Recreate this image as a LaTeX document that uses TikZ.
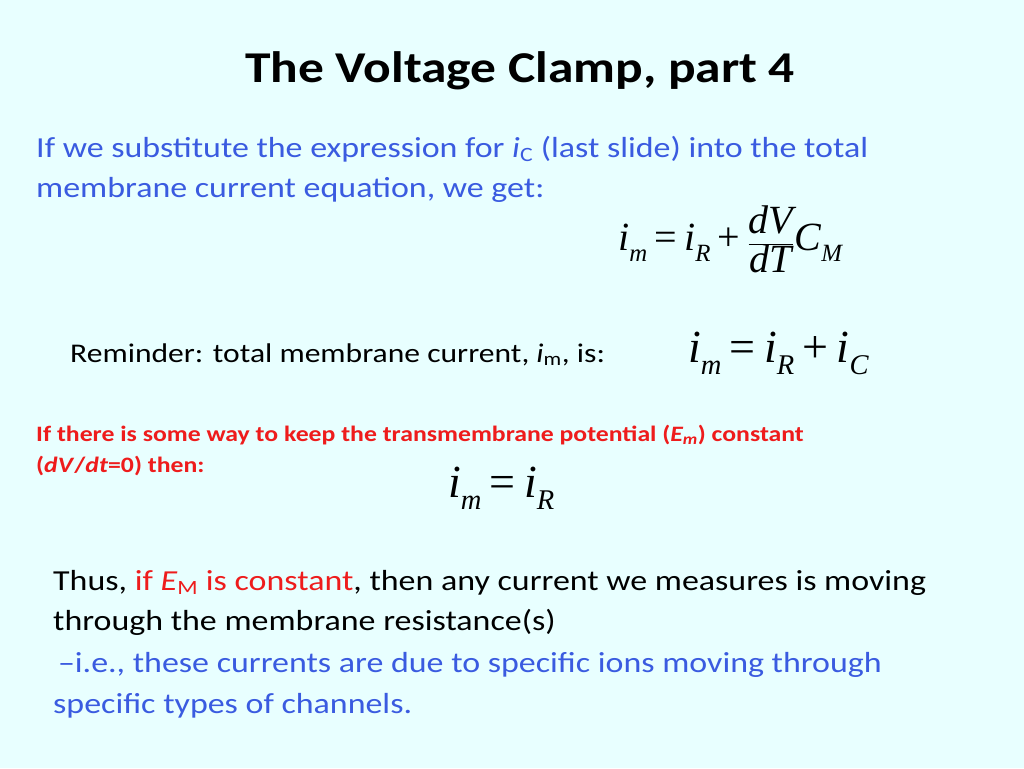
\documentclass[tikz,border=0pt]{standalone}
\usepackage{fontspec}
\setmainfont{Carlito}[FakeStretch=1.17]
\newfontfamily\tms{Liberation Serif}
\newcommand\msub[1]{\raisebox{-0.28em}{\scalebox{0.62}{#1}}}
\newcommand\meq{\hspace{0.18em}=\hspace{0.18em}}
\newcommand\mpl{\hspace{0.18em}+\hspace{0.18em}}
\definecolor{bg}{HTML}{E8FFFF}
\definecolor{tblue}{HTML}{3A5BE0}
\definecolor{tred}{HTML}{EE1C1C}
\begin{document}
\begin{tikzpicture}[x=1pt,y=-1pt,
  txt/.style={anchor=base west,inner sep=0pt,font=\fontsize{29}{34}\selectfont},
  eq/.style={anchor=base west,inner sep=0pt,font=\tms\fontsize{46}{50}\selectfont}]
\fill[bg] (0,0) rectangle (1024,768);
\useasboundingbox (0,0) rectangle (1024,768);
\node[anchor=base,inner sep=0pt,font=\bfseries\fontsize{44}{50}\selectfont] (title) at (520,82) {The Voltage Clamp, part 4};
\node[txt,text=tblue] (l1) at (36,157) {If we substitute the expression for \textit{i}\textsubscript{C} (last slide) into the total};
\node[txt,text=tblue] (l2) at (36,197) {membrane current equation, we get:};
\node[eq,font=\tms\fontsize{40}{44}\selectfont] (e1) at (618,250) {\textit{i}\msub{\textit{m}}\meq\textit{i}\msub{\textit{R}}\mpl$\displaystyle\frac{\mbox{\tms\fontsize{40}{44}\selectfont\itshape dV}}{\mbox{\tms\fontsize{40}{44}\selectfont\itshape dT}}$\textit{C}\msub{\textit{M}}};
\node[txt,font=\fontsize{27}{32}\selectfont] (rem) at (70,362) {Reminder: total membrane current, \textit{i}\textsubscript{m}, is:};
\node[eq] (e2) at (688,362) {\textit{i}\msub{\textit{m}}\meq\textit{i}\msub{\textit{R}}\mpl\textit{i}\msub{\textit{C}}};
\node[txt,text=tred,font=\bfseries\fontsize{22}{26}\selectfont] (r1) at (36,441) {If there is some way to keep the transmembrane potential (\textit{E\textsubscript{m}}) constant};
\node[txt,text=tred,font=\bfseries\fontsize{22}{26}\selectfont] (r2) at (36,472) {(\textit{dV}/\textit{dt}=0) then:};
\node[eq] (e3) at (448,497) {\textit{i}\msub{\textit{m}}\meq\textit{i}\msub{\textit{R}}};
\node[txt] (t1) at (53,590) {Thus, \textcolor{tred}{if \textit{E}\textsubscript{M} is constant}, then any current we measures is moving};
\node[txt] (t2) at (53,630) {through the membrane resistance(s)};
\node[txt,text=tblue] (t3) at (53,672) {\,–i.e., these currents are due to specific ions moving through};
\node[txt,text=tblue] (t4) at (53,713) {specific types of channels.};
\end{tikzpicture}
\end{document}
